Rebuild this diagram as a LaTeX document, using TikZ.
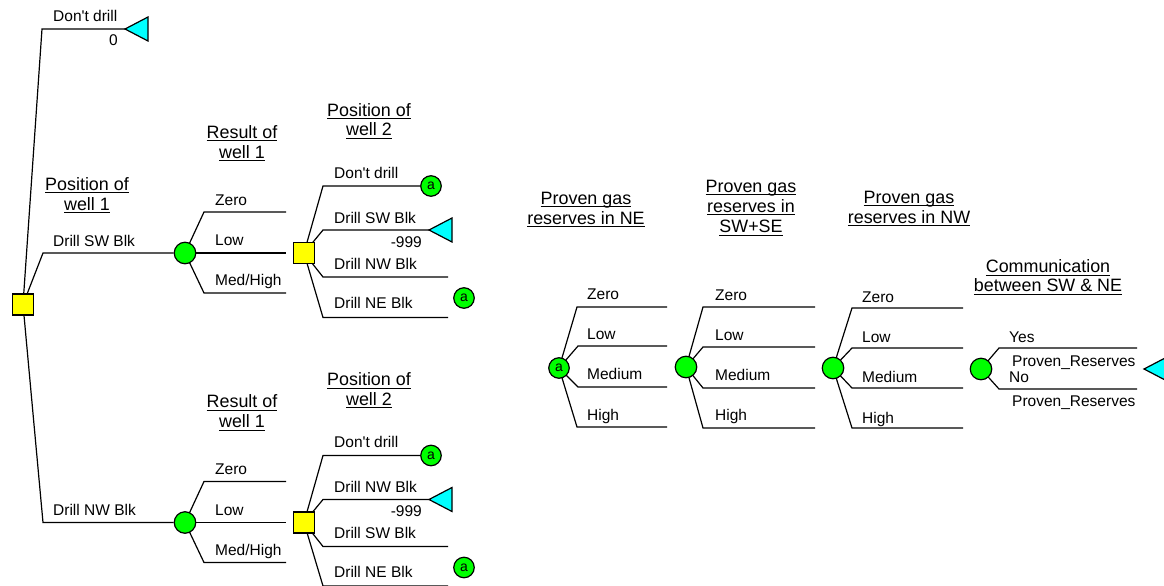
\documentclass[tikz,border=0pt]{standalone}
\usepackage{fontspec}
\setmainfont{Liberation Sans}[Ligatures=TeXOff]
\usetikzlibrary{backgrounds}

\definecolor{decyellow}{RGB}{255,255,0}
\definecolor{chancegreen}{RGB}{0,255,0}
\definecolor{tipcyan}{RGB}{0,255,255}

% underline at a fixed depth below the baseline
\newsavebox\ulbox
\newcommand\ulin[1]{\sbox\ulbox{#1}\rlap{\rule[-3.2pt]{\wd\ulbox}{1.1pt}}\usebox\ulbox}

\tikzset{
  branch/.style={draw=black, line width=1.2pt},
  decision/.style={rectangle, draw=black, line width=1.2pt, fill=decyellow,
    minimum size=21pt, inner sep=0pt},
  chance/.style={circle, draw=black, line width=1.2pt, fill=chancegreen,
    minimum size=21.5pt, inner sep=0pt},
  tagnode/.style={chance, minimum size=20.5pt, font=\fontsize{14}{14}\selectfont},
  lbl/.style={anchor=base west, inner sep=0pt, font=\fontsize{15.5}{18}\selectfont},
  val/.style={anchor=base east, inner sep=0pt, font=\fontsize{15.5}{18}\selectfont},
  ttl/.style={anchor=base, inner sep=0pt, font=\fontsize{17.9}{20}\selectfont},
  endtip/.style={draw=black, line width=1.2pt, fill=tipcyan, line join=miter},
}

\begin{document}
\begin{tikzpicture}[x=1pt, y=-1pt]
\useasboundingbox (0,0) rectangle (1164,586);
\clip (0,0) rectangle (1164,586);

% ---------------- branch points ----------------
\coordinate (r0) at (42,29);   \coordinate (T0) at (125,29);
\coordinate (r1) at (43,253);
\coordinate (r2) at (43,522.5);

% upper subtree (first well in SW)
\coordinate (c1z) at (204,212);  \coordinate (c1ze) at (286,212);
\coordinate (c1le) at (286,253);
\coordinate (c1m) at (204,293);  \coordinate (c1me) at (286,293);
\coordinate (s1a) at (323,186);
\coordinate (s1b) at (323,230);  \coordinate (T1) at (429,230);
\coordinate (s1c) at (323,277);  \coordinate (s1ce) at (448,277);
\coordinate (s1d) at (323,317.5);\coordinate (s1de) at (448,317.5);

% lower subtree (first well in NW)
\coordinate (c2z) at (204,481.5);  \coordinate (c2ze) at (286,481.5);
\coordinate (c2le) at (286,522.5);
\coordinate (c2m) at (204,562.5);  \coordinate (c2me) at (286,562.5);
\coordinate (s2a) at (323,455.5);
\coordinate (s2b) at (323,499.5);  \coordinate (T2) at (429,499.5);
\coordinate (s2c) at (323,546.5);  \coordinate (s2ce) at (448,546.5);
\coordinate (s2d) at (323,586);    \coordinate (s2de) at (448,586);

% reserves chain
\coordinate (a5z) at (577,307); \coordinate (a5ze) at (667,307);
\coordinate (a5l) at (578,346); \coordinate (a5le) at (667,346);
\coordinate (a5m) at (578,387); \coordinate (a5me) at (667,387);
\coordinate (a5h) at (577,427); \coordinate (a5he) at (667,427);

\coordinate (c3z) at (703,307); \coordinate (c3ze) at (815,307);
\coordinate (c3l) at (703,347); \coordinate (c3le) at (815,347);
\coordinate (c3m) at (703,388); \coordinate (c3me) at (815,388);
\coordinate (c3h) at (703,428); \coordinate (c3he) at (815,428);

\coordinate (c4z) at (852,308); \coordinate (c4ze) at (963,308);
\coordinate (c4l) at (852,348); \coordinate (c4le) at (963,348);
\coordinate (c4m) at (852,388); \coordinate (c4me) at (963,388);
\coordinate (c4h) at (852,428); \coordinate (c4he) at (963,428);

\coordinate (c5y) at (999,348); \coordinate (c5ye) at (1137,348);
\coordinate (c5n) at (999,389); \coordinate (c5ne) at (1137,389);
\coordinate (T3) at (1144,369);

% ---------------- nodes ----------------
\node[decision] (D0) at (23,304.5) {};
\node[chance]   (C1) at (185,253) {};
\node[decision] (S1) at (304,253) {};
\node[tagnode]  (A1) at (431,186) {a};
\node[tagnode]  (A2) at (464,298) {a};

\node[chance]   (C2) at (185,522.5) {};
\node[decision] (S2) at (304,522.5) {};
\node[tagnode]  (A3) at (431,455.5) {a};
\node[tagnode]  (A4) at (464,567.5) {a};

\node[tagnode]  (A5) at (559,368) {a};
\node[chance]   (C3) at (686,367) {};
\node[chance]   (C4) at (833,368) {};
\node[chance]   (C5) at (981,369) {};

% ---------------- connectors ----------------
\begin{scope}[on background layer]
  \draw[branch] (D0.center) -- (r0) -- (T0);
  \draw[branch] (D0.center) -- (r1) -- (C1);
  \draw[branch] (D0.center) -- (r2) -- (C2);

  \draw[branch] (C1.center) -- (c1z) -- (c1ze);
  \draw[branch] (C1.center) -- (c1le);
  \draw[branch] (C1.center) -- (c1m) -- (c1me);
  \draw[branch] (S1.center) -- (s1a) -- (A1);
  \draw[branch] (S1.center) -- (s1b) -- (T1);
  \draw[branch] (S1.center) -- (s1c) -- (s1ce);
  \draw[branch] (S1.center) -- (s1d) -- (s1de);

  \draw[branch] (C2.center) -- (c2z) -- (c2ze);
  \draw[branch] (C2.center) -- (c2le);
  \draw[branch] (C2.center) -- (c2m) -- (c2me);
  \draw[branch] (S2.center) -- (s2a) -- (A3);
  \draw[branch] (S2.center) -- (s2b) -- (T2);
  \draw[branch] (S2.center) -- (s2c) -- (s2ce);
  \draw[branch] (S2.center) -- (s2d) -- (s2de);

  \draw[branch] (A5.center) -- (a5z) -- (a5ze);
  \draw[branch] (A5.center) -- (a5l) -- (a5le);
  \draw[branch] (A5.center) -- (a5m) -- (a5me);
  \draw[branch] (A5.center) -- (a5h) -- (a5he);

  \draw[branch] (C3.center) -- (c3z) -- (c3ze);
  \draw[branch] (C3.center) -- (c3l) -- (c3le);
  \draw[branch] (C3.center) -- (c3m) -- (c3me);
  \draw[branch] (C3.center) -- (c3h) -- (c3he);

  \draw[branch] (C4.center) -- (c4z) -- (c4ze);
  \draw[branch] (C4.center) -- (c4l) -- (c4le);
  \draw[branch] (C4.center) -- (c4m) -- (c4me);
  \draw[branch] (C4.center) -- (c4h) -- (c4he);

  \draw[branch] (C5.center) -- (c5y) -- (c5ye);
  \draw[branch] (C5.center) -- (c5n) -- (c5ne);
\end{scope}

% terminal payoffs
\draw[endtip] (T0) -- ++(23,-12) -- ++(0,24) -- cycle;
\draw[endtip] (T1) -- ++(23,-12) -- ++(0,24) -- cycle;
\draw[endtip] (T2) -- ++(23,-12) -- ++(0,24) -- cycle;
\draw[endtip] (T3) -- ++(23,-12) -- ++(0,24) -- cycle;

% ---------------- root labels ----------------
\node[lbl] (l0) at (53,22) {Don't drill};
\node[val] (v0) at (118,46) {0};
\node[lbl] (l1) at (53,246) {Drill SW Blk};
\node[lbl] (l2) at (53,515) {Drill NW Blk};
\node[ttl] (t0a) at (87,190) {\ulin{Position of}};
\node[ttl] (t0b) at (87,210) {\ulin{well 1}};

% ---------------- upper subtree labels ----------------
\node[ttl] (t1a) at (242,138) {\ulin{Result of}};
\node[ttl] (t1b) at (242,158) {\ulin{well 1}};
\node[ttl] (t2a) at (369,116) {\ulin{Position of}};
\node[ttl] (t2b) at (369,135.5) {\ulin{well 2}};
\node[lbl] (u1) at (215,205) {Zero};
\node[lbl] (u2) at (215,245.5) {Low};
\node[lbl] (u3) at (215,285.5) {Med/High};
\node[lbl] (u4) at (334,178) {Don't drill};
\node[lbl] (u5) at (334,223) {Drill SW Blk};
\node[val] (u6) at (422,247) {-999};
\node[lbl] (u7) at (334,269) {Drill NW Blk};
\node[lbl] (u8) at (334,308) {Drill NE Blk};

% ---------------- lower subtree labels ----------------
\node[ttl] (t3a) at (242,407.5) {\ulin{Result of}};
\node[ttl] (t3b) at (242,427.5) {\ulin{well 1}};
\node[ttl] (t4a) at (369,385.5) {\ulin{Position of}};
\node[ttl] (t4b) at (369,405) {\ulin{well 2}};
\node[lbl] (w1) at (215,474.5) {Zero};
\node[lbl] (w2) at (215,515) {Low};
\node[lbl] (w3) at (215,555) {Med/High};
\node[lbl] (w4) at (334,447.5) {Don't drill};
\node[lbl] (w5) at (334,492.5) {Drill NW Blk};
\node[val] (w6) at (422,516.5) {-999};
\node[lbl] (w7) at (334,538.5) {Drill SW Blk};
\node[lbl] (w8) at (334,577.5) {Drill NE Blk};

% ---------------- reserves chain labels ----------------
\node[ttl] (t5a) at (586,204) {\ulin{Proven gas}};
\node[ttl] (t5b) at (586,224) {\ulin{reserves in NE}};
\node[ttl] (t6a) at (751,192) {\ulin{Proven gas}};
\node[ttl] (t6b) at (751,212) {\ulin{reserves in}};
\node[ttl] (t6c) at (751,232.5) {\ulin{SW+SE}};
\node[ttl] (t7a) at (909,203) {\ulin{Proven gas}};
\node[ttl] (t7b) at (909,223) {\ulin{reserves in NW}};
\node[ttl] (t8a) at (1048,272.5) {\ulin{Communication}};
\node[ttl] (t8b) at (1048,291.5) {\ulin{between SW \& NE}};

\node[lbl] (p1) at (587,299) {Zero};
\node[lbl] (p2) at (587,339) {Low};
\node[lbl] (p3) at (587,379) {Medium};
\node[lbl] (p4) at (587,420) {High};

\node[lbl] (q1) at (715,300) {Zero};
\node[lbl] (q2) at (715,340.5) {Low};
\node[lbl] (q3) at (715,380.5) {Medium};
\node[lbl] (q4) at (715,420.5) {High};

\node[lbl] (n1) at (862,302) {Zero};
\node[lbl] (n2) at (862,342) {Low};
\node[lbl] (n3) at (862,382) {Medium};
\node[lbl] (n4) at (862,423) {High};

\node[lbl] (k1) at (1009,342) {Yes};
\node[lbl] (k2) at (1012,366) {Proven\_Reserves};
\node[lbl] (k3) at (1009,382) {No};
\node[lbl] (k4) at (1012,406) {Proven\_Reserves};
\end{tikzpicture}
\end{document}
